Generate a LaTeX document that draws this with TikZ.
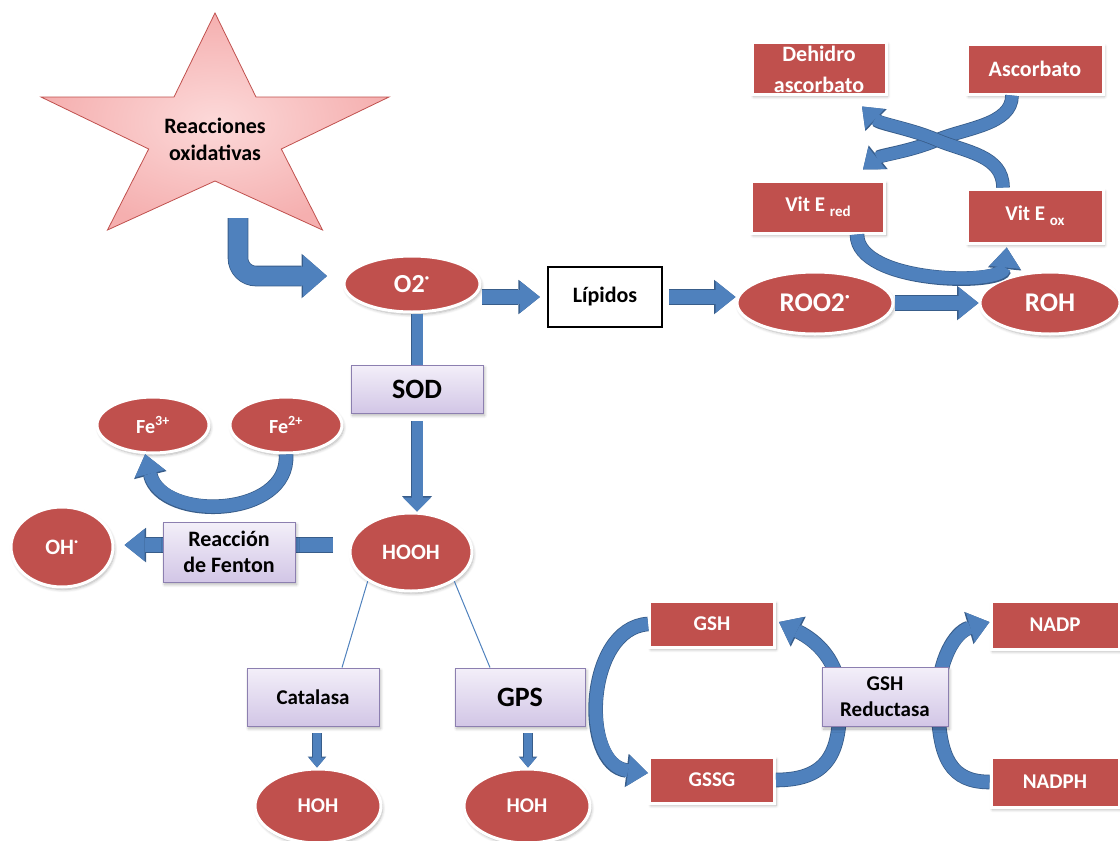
\documentclass[tikz,border=0pt]{standalone}
\usepackage{fontspec}
\setmainfont{Carlito}
\usetikzlibrary{arrows.meta,shapes.geometric,shadows.blur}

\definecolor{cellred}{HTML}{C0504D}
\definecolor{flowblue}{HTML}{4F81BD}
\definecolor{flowedge}{HTML}{385D8A}
\definecolor{lavtop}{HTML}{F3EFF9}
\definecolor{lavbot}{HTML}{D2C6E6}
\definecolor{lavedge}{HTML}{8C7FB0}
\definecolor{starouter}{HTML}{F5AFAF}
\definecolor{starinner}{HTML}{FCD9D9}
\definecolor{staredge}{HTML}{C0504D}

\newcommand{\lowidx}[1]{\raisebox{-5pt}{\fontsize{15}{18}\selectfont #1}}

\tikzset{
  fs/.style 2 args={font=\fontsize{#1}{#2}\selectfont\bfseries},
  softshadow/.style={blur shadow={shadow blur steps=6, shadow xshift=1.5pt, shadow yshift=-2.5pt, shadow blur radius=3pt, shadow opacity=30}},
  species/.style={ellipse, fill=cellred, draw=white, line width=3pt, text=white, inner sep=0pt, softshadow, fs={22}{26}},
  redbox/.style={rectangle, fill=cellred, draw=white, line width=3pt, text=white, inner sep=0pt, align=center, softshadow, fs={21}{26}},
  enzyme/.style={rectangle, top color=lavtop, bottom color=lavbot, draw=lavedge, line width=0.9pt, text=black, inner sep=0pt, align=center, softshadow, fs={22}{26}},
  plainbox/.style={rectangle, fill=white, draw=black, line width=2.2pt, inner sep=0pt, fs={22}{26}},
  startext/.style={align=center, inner sep=0pt, fs={22}{27}},
  bigflow/.style={line width=19pt, draw=flowblue, -{Triangle[width=42pt,length=24pt,line width=0pt]},
    preaction={draw=flowedge, line width=20.6pt, -{Triangle[width=44.5pt,length=25.5pt,line width=0pt]}}},
  midflow/.style={line width=14pt, draw=flowblue, -{Triangle[width=32pt,length=20pt,line width=0pt]},
    preaction={draw=flowedge, line width=15.6pt, -{Triangle[width=34.5pt,length=21.5pt,line width=0pt]}}},
  curvflow/.style={line width=13pt, draw=flowblue, -{Triangle[width=31pt,length=20pt,line width=0pt]},
    preaction={draw=flowedge, line width=14.6pt, -{Triangle[width=33.5pt,length=21.5pt,line width=0pt]}}},
  crossflow/.style={line width=12pt, draw=flowblue, -{Triangle[width=28pt,length=18pt,line width=0pt]},
    preaction={draw=flowedge, line width=13.6pt, -{Triangle[width=30.5pt,length=19.5pt,line width=0pt]}}},
  thinflow/.style={line width=11pt, draw=flowblue, -{Triangle[width=28pt,length=14pt,line width=0pt]},
    preaction={draw=flowedge, line width=12.4pt, -{Triangle[width=30pt,length=15.5pt,line width=0pt]}}},
  tinyflow/.style={line width=8pt, draw=flowblue, -{Triangle[width=17pt,length=10pt,line width=0pt]},
    preaction={draw=flowedge, line width=9.2pt, -{Triangle[width=18.6pt,length=11pt,line width=0pt]}}},
  barflow/.style={line width=11pt, draw=flowblue, preaction={draw=flowedge, line width=12.4pt}},
  link/.style={draw=flowblue, line width=1pt}
}

\begin{document}
\begin{tikzpicture}[x=1pt,y=-1pt]
\useasboundingbox (0,0) rectangle (1120,841);

% five-pointed star, stretched horizontally
\path[inner color=starinner, outer color=starouter, draw=staredge, line width=0.8pt]
  (215,13) -- (256,97) -- (389,97) -- (281.3,149) -- (322.5,230) -- (215,181)
  -- (107.5,230) -- (148.7,149) -- (41,97) -- (174,97) -- cycle;
\node[startext] (star) at (215,139) {Reacciones\\oxidativas};

% superoxide and lipid peroxidation branch
\node[species, minimum width=136pt, minimum height=56pt, fs={26}{30}] (o2) at (412,284) {O2\textsuperscript{·}};
\node[plainbox, minimum width=114pt, minimum height=60pt] (lipidos) at (605,297) {Lípidos};
\node[species, minimum width=156pt, minimum height=62pt, fs={27}{32}] (roo2) at (815,303) {ROO2\textsuperscript{·}};
\node[species, minimum width=140pt, minimum height=62pt, fs={27}{32}] (roh) at (1050,303) {ROH};

% vitamin E / ascorbate cycle
\node[redbox, minimum width=134pt, minimum height=52pt, fs={22}{31}] (dehidro) at (819,68) {\rule{0pt}{19pt}Dehidro\\ascorbato};
\node[redbox, minimum width=136pt, minimum height=50pt, fs={22}{26}] (ascorbato) at (1035,69) {Ascorbato};
\node[redbox, minimum width=133pt, minimum height=52pt] (vitered) at (818,207) {Vit E \lowidx{red}};
\node[redbox, minimum width=136pt, minimum height=54pt] (viteox) at (1035,216) {Vit E \lowidx{ox}};

% dismutation and peroxide
\node[enzyme, minimum width=132pt, minimum height=48pt, fs={28}{32}] (sod) at (417,389) {SOD};
\node[species, minimum width=122pt, minimum height=78pt] (hooh) at (411,552) {HOOH};

% Fenton chemistry
\node[species, minimum width=112pt, minimum height=56pt, fs={20}{24}] (fe3) at (153,425) {Fe\textsuperscript{3+}};
\node[species, minimum width=112pt, minimum height=56pt, fs={20}{24}] (fe2) at (286,425) {Fe\textsuperscript{2+}};
\node[species, minimum width=102pt, minimum height=80pt] (oh) at (62,547) {OH\textsuperscript{·}};

% peroxide removal
\node[enzyme, minimum width=132pt, minimum height=58pt, fs={21}{26}] (catalasa) at (313,697) {Catalasa};
\node[enzyme, minimum width=130pt, minimum height=58pt, fs={28}{32}] (gps) at (520,697) {GPS};
\node[species, minimum width=126pt, minimum height=74pt, fs={21}{26}] (hoh1) at (318,806) {HOH};
\node[species, minimum width=126pt, minimum height=74pt, fs={21}{26}] (hoh2) at (527,806) {HOH};

% glutathione cycle
\node[redbox, minimum width=125pt, minimum height=46pt] (gsh) at (712,624) {GSH};
\node[redbox, minimum width=125pt, minimum height=46pt] (gssg) at (712,780) {GSSG};
\node[redbox, minimum width=128pt, minimum height=48pt] (nadp) at (1055,625) {NADP};
\node[redbox, minimum width=128pt, minimum height=50pt] (nadph) at (1055,782) {NADPH};

% connectors
\coordinate (bendtop) at (238,218);
\coordinate (bendtip) at (327,276);
\draw[bigflow, rounded corners=18pt] (bendtop) |- (bendtip);

\draw[midflow, shorten >=7pt] (o2.east |- lipidos.west) -- (lipidos.west);
\draw[midflow, shorten <=6pt] (lipidos.east) -- (roo2.west |- lipidos.east);
\draw[midflow] (roo2.east) -- (roh.west);

\draw[barflow] (o2.south -| sod.north) -- (sod.north);
\draw[thinflow, shorten <=8pt] (sod.south) -- (sod.south |- hooh.north);

\draw[curvflow] (fe2.south) .. controls (290,518) and (162,522) .. (fe3.255);
\coordinate (fentonstart) at (333,545);
\draw[midflow, shorten >=10pt] (fentonstart) -- (fentonstart -| oh.east);

\draw[link] (hooh.214) -- ([xshift=29pt]catalasa.north);
\draw[link] (hooh.326) -- ([xshift=-30pt]gps.north);
\draw[tinyflow, shorten <=7pt] ([xshift=4pt]catalasa.south) -- ([xshift=4pt]catalasa.south |- hoh1.north);
\draw[tinyflow, shorten <=7pt] ([xshift=8pt]gps.south) -- ([xshift=8pt]gps.south |- hoh2.north);

\draw[curvflow, shorten >=3pt] ([xshift=39pt]vitered.south) .. controls (857,284) and (1003,286) .. ([xshift=-28pt]viteox.south);
\coordinate (cross) at (937,140);
\draw[crossflow] ([xshift=-23pt]ascorbato.south) .. controls (1012,125) and (965,128) .. (cross)
   .. controls (912,151) and (881,155) .. ([xshift=45pt,yshift=10pt]vitered.north);
\draw[crossflow] ([xshift=-32pt]viteox.north) .. controls (1003,155) and (965,152) .. (cross)
   .. controls (912,129) and (880,124) .. ([xshift=43pt,yshift=-11pt]dehidro.south);

\draw[curvflow] (gsh.west) .. controls (585,628) and (580,765) .. ([yshift=7pt]gssg.west);
\draw[curvflow] (gssg.east) .. controls (832,780) and (840,748) .. (840,700)
   .. controls (840,660) and (815,640) .. ([xshift=3pt,yshift=2pt]gsh.east);
\draw[curvflow] (nadph.west) .. controls (952,782) and (938,760) .. (938,700)
   .. controls (938,660) and (955,632) .. ([yshift=3pt]nadp.west);

% enzyme boxes that sit on top of passing arrows
\node[enzyme, minimum width=132pt, minimum height=60pt, fs={22}{26}] (fenton) at (229,552) {Reacción\\de Fenton};
\node[enzyme, minimum width=126pt, minimum height=59pt, fs={21}{26}] (reductasa) at (885,697) {GSH\\Reductasa};
\end{tikzpicture}
\end{document}
